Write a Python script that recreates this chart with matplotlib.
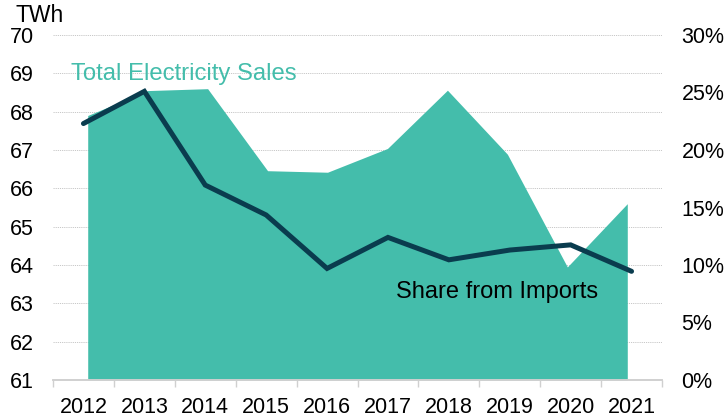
import matplotlib
matplotlib.use("Agg")
import matplotlib.pyplot as plt
import numpy as np

years = ["2012", "2013", "2014", "2015", "2016", "2017", "2018", "2019", "2020", "2021"]
sales_twh = [67.9, 68.55, 68.6, 66.46, 66.42, 67.04, 68.56, 66.89, 63.95, 65.6]
import_share_pct = [22.3, 25.1, 16.95, 14.35, 9.7, 12.4, 10.45, 11.3, 11.75, 9.45]
left_ticks = [61, 62, 63, 64, 65, 66, 67, 68, 69, 70]
right_ticks = [0, 5, 10, 15, 20, 25, 30]

plt.rcParams['font.family'] = ['Liberation Sans', 'DejaVu Sans']

fig = plt.figure(figsize=(7.24, 4.18), dpi=100)
ax = fig.add_axes([53/724, 1-380/418, (662-53)/724, (380-35)/418])
ax2 = ax.twinx()

x = np.arange(len(years))
# area is drawn slightly inset in the reference
xa = 0.07 + x * (8.93 - 0.07) / (len(years) - 1)

teal = "#44BDAB"
navy = "#0A3C4E"
grid_c = "#C8C8C8"

ax.fill_between(xa, 61, sales_twh, color=teal, linewidth=0, zorder=2)
ax.set_ylim(61, 70)
ax.set_xlim(-0.5, len(years) - 0.5)
ax.set_yticks(left_ticks)
ax.set_yticklabels([str(v) for v in left_ticks])
for v in left_ticks[1:]:
    ax.axhline(v, color=grid_c, linewidth=0.7, linestyle=(0, (1.2, 1.0)), zorder=1)

ax2.plot(x, import_share_pct, color=navy, linewidth=3.6, solid_capstyle='round',
         solid_joinstyle='miter', zorder=3)
ax2.set_ylim(0, 30)
ax2.set_yticks(right_ticks)
ax2.set_yticklabels([f"{v}%" for v in right_ticks])

ax.set_xticks(np.arange(-0.5, len(years) + 0.5, 1.0))
ax.set_xticklabels([])
ax.set_xticks(x, minor=True)
ax.set_xticklabels(years, minor=True)
ax.tick_params(axis='x', which='major', length=5, width=1, color="#D0D0D0", direction='out')
ax.tick_params(axis='x', which='minor', length=0, pad=12, labelsize=15.5, labelcolor="#000000")
ax.tick_params(axis='y', length=0, pad=14, labelsize=15.5)
ax2.tick_params(axis='y', length=0, pad=14, labelsize=15.5)

for a in (ax, ax2):
    for s in ("top", "left", "right"):
        a.spines[s].set_visible(False)
    a.spines["bottom"].set_color("#D0D0D0")
    a.spines["bottom"].set_linewidth(1.2)

fig.text(15/724, 1-16/418, "TWh", fontsize=16.5, va='center', ha='left', color="#000000")
fig.text(71/724, 1-74/418, "Total Electricity Sales", fontsize=17.2, va='center', ha='left', color=teal)
fig.text(396/724, 1-292/418, "Share from Imports", fontsize=17, va='center', ha='left', color="#000000")

fig.savefig("out.png", dpi=100)
